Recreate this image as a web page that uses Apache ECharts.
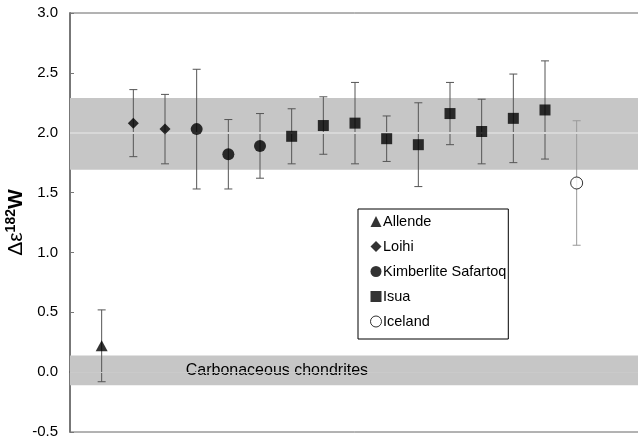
<!DOCTYPE html>
<html>
<head>
<meta charset="utf-8">
<script src="https://cdn.jsdelivr.net/npm/echarts@6/dist/echarts.min.js"></script>
<style>
html, body { margin: 0; padding: 0; background: #fff; }
#chart { width: 638px; height: 441px; }
</style>
</head>
<body>
<div id="chart"></div>
<script>
var groups = ['Allende', 'Loihi', 'Kimberlite Safartoq', 'Isua', 'Iceland'];
var symbols = ['triangle', 'diamond', 'circle', 'rect', 'circle'];
var sampleGroup = [0, 1, 1, 2, 2, 2, 3, 3, 3, 3, 3, 3, 3, 3, 3, 4];
var values = [0.22, 2.08, 2.03, 2.03, 1.82, 1.89, 1.97, 2.06, 2.08, 1.95, 1.90, 2.16, 2.01, 2.12, 2.19, 1.58];
var errors = [0.30, 0.28, 0.29, 0.50, 0.29, 0.27, 0.23, 0.24, 0.34, 0.19, 0.35, 0.26, 0.27, 0.37, 0.41, 0.52];
var mantleBand = [1.69, 2.29];
var mantleMean = 2.0;
var chondriteBand = [-0.11, 0.14];
var chondriteMean = 0.0;
var yTicks = { min: -0.5, max: 3.0, step: 0.5 };

var myChart = echarts.init(document.getElementById('chart'));

var errData = values.map(function (v, i) {
    return [i + 1, v - errors[i], v + errors[i], sampleGroup[i]];
});

var pointSeries = groups.map(function (name, g) {
    var pts = [];
    values.forEach(function (v, i) {
        if (sampleGroup[i] === g) pts.push([i + 1, v]);
    });
    var isOpen = name === 'Iceland';
    return {
        name: name,
        type: 'scatter',
        symbol: symbols[g],
        symbolSize: g === 1 ? 11 : (g === 0 ? [12, 11] : (g === 3 ? 11 : 12)),
        itemStyle: {
            color: isOpen ? '#fff' : '#000',
            borderColor: '#000',
            borderWidth: isOpen ? 1 : 0
        },
        z: 5,
        data: pts
    };
});

option = {
    animation: false,
    textStyle: { fontFamily: 'Liberation Sans, Arial, sans-serif' },
    grid: {
        left: 70,
        right: -2,
        top: 13,
        bottom: 9,
        outerBoundsMode: 'none',
        containLabel: false,
        show: true,
        borderColor: '#666',
        borderWidth: 1
    },
    legend: {
        orient: 'vertical',
        left: 358,
        top: 209,
        itemWidth: 11,
        itemHeight: 11,
        itemGap: 10,
        padding: [5, 2, 10, 12],
        borderColor: '#000',
        borderWidth: 1,
        backgroundColor: '#fff',
        textStyle: { fontSize: 14.5, lineHeight: 15, color: '#000', padding: [0, 0, 0, -3.5] },
        data: groups.map(function (n, g) {
            var item = { name: n, icon: symbols[g] };
            if (g === 4) {
                item.itemStyle = { color: '#fff', borderColor: '#000', borderWidth: 1 };
            }
            return item;
        })
    },
    xAxis: {
        type: 'value',
        min: 0,
        max: 18,
        axisLine: { show: true, lineStyle: { color: '#555', width: 1.5 } },
        axisTick: { show: false },
        axisLabel: { show: false },
        splitLine: { show: false }
    },
    yAxis: {
        type: 'value',
        min: yTicks.min,
        max: yTicks.max,
        interval: yTicks.step,
        name: '{a|Δε}{b|182}{c|W}',
        nameLocation: 'middle',
        nameRotate: 90,
        nameGap: 42,
        nameMoveOverlap: false,
        nameTextStyle: {
            rich: {
                a: { fontSize: 21, color: '#000', fontFamily: 'Liberation Sans' },
                b: { fontSize: 14, fontWeight: 'bold', color: '#000', padding: [0, 0, 10, 0], fontFamily: 'Liberation Sans' },
                c: { fontSize: 21, fontWeight: 'bold', color: '#000', fontFamily: 'Liberation Sans' }
            }
        },
        axisLine: { show: true, lineStyle: { color: '#777', width: 2 } },
        axisTick: { show: true, inside: true, length: 4, lineStyle: { color: '#777' } },
        axisLabel: {
            fontSize: 15,
            color: '#000',
            margin: 12,
            formatter: function (v) { return v.toFixed(1); }
        },
        splitLine: { show: false }
    },
    series: [{
        name: 'bands',
        type: 'line',
        data: [],
        silent: true,
        z: 1,
        markArea: {
            silent: true,
            itemStyle: { color: '#c6c6c6' },
            data: [
                [{ yAxis: mantleBand[0] }, { yAxis: mantleBand[1] }],
                [{ yAxis: chondriteBand[0] }, { yAxis: chondriteBand[1] }]
            ]
        }
    }, {
        name: 'means',
        type: 'line',
        data: [],
        silent: true,
        z: 2,
        markLine: {
            silent: true,
            symbol: 'none',
            label: { show: false },
            data: [
                { yAxis: mantleMean, lineStyle: { color: '#d8d8d8', width: 2, type: 'solid' } },
                { yAxis: chondriteMean, lineStyle: { color: '#cacaca', width: 1, type: 'solid' } }
            ]
        }
    }, {
        name: 'bandLabel',
        type: 'line',
        data: [],
        silent: true,
        z: 3,
        markArea: {
            silent: true,
            itemStyle: { color: 'rgba(0,0,0,0)' },
            data: [[{
                yAxis: chondriteBand[0],
                label: {
                    show: true,
                    position: ['20.3%', '50%'],
                    align: 'left',
                    verticalAlign: 'middle',
                    formatter: 'Carbonaceous chondrites',
                    fontSize: 16,
                    color: '#000'
                }
            }, { yAxis: chondriteBand[1] }]]
        }
    }, {
        name: 'errors',
        type: 'custom',
        z: 3,
        silent: true,
        renderItem: function (params, api) {
            var x = api.value(0);
            var lo = api.coord([x, api.value(1)]);
            var hi = api.coord([x, api.value(2)]);
            var col = api.value(3) === 4 ? '#999' : '#555';
            var style = { stroke: col, lineWidth: 1 };
            return {
                type: 'group',
                children: [
                    { type: 'line', shape: { x1: lo[0], y1: lo[1], x2: hi[0], y2: hi[1] }, style: style },
                    { type: 'line', shape: { x1: hi[0] - 4, y1: hi[1], x2: hi[0] + 4, y2: hi[1] }, style: style },
                    { type: 'line', shape: { x1: lo[0] - 4, y1: lo[1], x2: lo[0] + 4, y2: lo[1] }, style: style }
                ]
            };
        },
        data: errData
    }].concat(pointSeries)
};
myChart.setOption(option);
</script>
</body>
</html>
